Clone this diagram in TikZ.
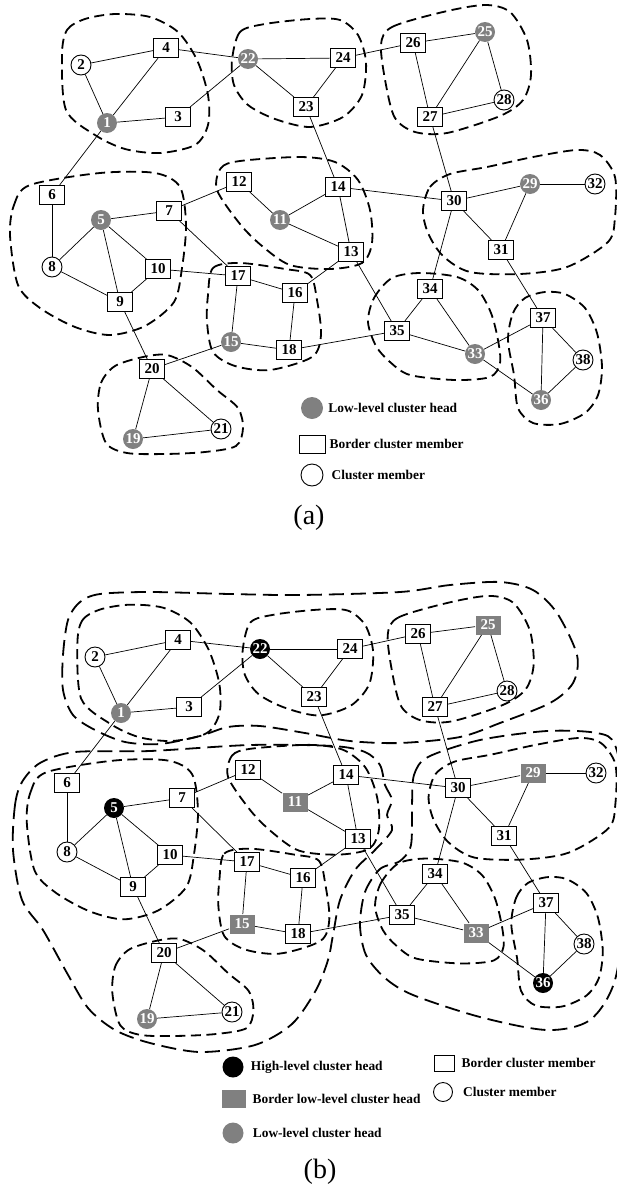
\documentclass[tikz,border=0pt]{standalone}
\usepackage{fontspec}
\setmainfont{Liberation Serif}
\usepackage{tikz}
\usetikzlibrary{shapes,positioning}

\definecolor{headgray}{RGB}{128,128,128}
\newcommand{\idfont}{\fontsize{15}{15}\selectfont\bfseries}
\newcommand{\keyfont}{\fontsize{13.4}{15}\selectfont\bfseries}
\newcommand{\tagfont}{\fontsize{28}{30}\selectfont}

% links between the nodes, the same in both panels
\newcommand{\linklist}{1/2,1/4,2/4,1/3,3/22,4/22,22/24,22/23,23/24,24/26,26/25,26/27,25/27,25/28,27/28,27/30,1/6,6/8,5/8,5/7,5/9,5/10,8/9,9/10,10/17,7/12,7/17,12/11,11/14,11/13,14/13,23/14,14/30,30/29,29/32,29/31,30/31,30/34,13/16,13/35,17/16,17/15,16/18,15/18,15/20,9/20,20/19,20/21,19/21,18/35,35/34,34/33,35/33,33/37,33/36,31/37,37/36,37/38,38/36}

% low-level cluster borders
\newcommand{\lowclusters}{%
  % 1 2 3 4
  \draw[lowcluster] plot[smooth cycle] coordinates {(62,55) (67,30) (85,19) (115,14) (150,17) (178,32) (197,60) (208,95) (208,125) (195,145) (160,153) (125,149) (95,135) (66,110)};
  % 22 23 24
  \draw[lowcluster] plot[smooth cycle] coordinates {(232,60) (240,32) (265,24) (310,19) (340,20) (358,35) (366,62) (362,95) (343,117) (310,127) (275,119) (248,105) (234,85)};
  % 25 26 27 28
  \draw[lowcluster] plot[smooth cycle] coordinates {(381,45) (392,27) (443,12) (485,5) (510,12) (527,40) (531,75) (523,100) (500,116) (447,133) (415,132) (395,118) (386,85)};
  % 5 .. 10
  \draw[lowcluster] plot[smooth cycle] coordinates {(10,235) (14,205) (30,185) (100,173) (155,173) (180,187) (186,225) (182,268) (174,302) (145,326) (110,335) (75,327) (40,308) (18,285)};
  % 11 12 13 14
  \draw[lowcluster] plot[smooth cycle] coordinates {(217,190) (221,168) (240,161) (300,157) (335,162) (358,180) (370,210) (372,243) (362,263) (330,269) (290,265) (262,246) (240,224)};
  % 15 16 17 18
  \draw[lowcluster] plot[smooth cycle] coordinates {(208,295) (213,268) (240,263) (285,269) (310,275) (317,300) (321,335) (312,357) (270,370) (235,366) (213,352) (207,322)};
  % 19 20 21
  \draw[lowcluster] plot[smooth cycle] coordinates {(98,410) (101,383) (115,366) (143,357) (167,355) (192,367) (217,390) (238,408) (243,428) (236,446) (205,452) (165,454) (127,453) (106,443)};
  % 29 30 31 32
  \draw[lowcluster] plot[smooth cycle] coordinates {(423,210) (430,187) (450,174) (487,167) (533,157) (577,150) (600,155) (615,177) (615,217) (608,242) (567,267) (520,274) (470,272) (443,256) (428,233)};
  % 33 34 35
  \draw[lowcluster] plot[smooth cycle] coordinates {(368,322) (374,298) (392,278) (420,273) (457,277) (478,290) (491,313) (498,340) (500,363) (490,377) (455,380) (410,375) (390,362) (376,346)};
  % 36 37 38
  \draw[lowcluster] plot[smooth cycle] coordinates {(508,340) (513,313) (525,298) (545,292) (565,294) (585,308) (597,333) (602,367) (598,395) (585,413) (560,424) (533,423) (518,408) (514,375)};
}

\begin{document}
\begin{tikzpicture}[x=1pt, y=-1pt,
    cmember/.style={circle, draw, line width=0.9pt, fill=white, minimum size=20pt, inner sep=0pt, font=\idfont},
    bmember/.style={rectangle, draw, line width=0.9pt, fill=white, minimum width=25pt, minimum height=19pt, inner sep=1.5pt, font=\idfont},
    chead/.style={circle, fill=headgray, text=white, minimum size=20pt, inner sep=0pt, font=\idfont},
    hhead/.style={chead, fill=black},
    bhead/.style={bmember, draw=none, fill=headgray, text=white},
    link/.style={line width=0.7pt},
    lowcluster/.style={line width=1.8pt, dash pattern=on 10pt off 5.5pt},
    topcluster/.style={line width=1.8pt, dash pattern=on 15pt off 7pt},
    keytext/.style={font=\keyfont, inner sep=0pt}]
\useasboundingbox (0,0) rectangle (616,1191);

% (a) clusters
\lowclusters

% (a) nodes
\node[chead]   (a1)  at (107,123) {1};
\node[cmember] (a2)  at (81,65)   {2};
\node[bmember] (a3)  at (178,117) {3};
\node[bmember] (a4)  at (166,48)  {4};
\node[chead]   (a5)  at (101,220) {5};
\node[bmember] (a6)  at (52,195)  {6};
\node[bmember] (a7)  at (169,211) {7};
\node[cmember] (a8)  at (52,267)  {8};
\node[bmember] (a9)  at (120,302) {9};
\node[bmember] (a10) at (158,269) {10};
\node[chead]   (a11) at (280,220) {11};
\node[bmember] (a12) at (239,182) {12};
\node[bmember] (a13) at (351,252) {13};
\node[bmember] (a14) at (338,187) {14};
\node[chead]   (a15) at (231,342) {15};
\node[bmember] (a16) at (295,293) {16};
\node[bmember] (a17) at (238,276) {17};
\node[bmember] (a18) at (289,350) {18};
\node[chead]   (a19) at (133,439) {19};
\node[bmember] (a20) at (152,369) {20};
\node[cmember] (a21) at (221,429) {21};
\node[chead]   (a22) at (248,59)  {22};
\node[bmember] (a23) at (306,107) {23};
\node[bmember] (a24) at (343,58)  {24};
\node[chead]   (a25) at (485,32)  {25};
\node[bmember] (a26) at (413,43)  {26};
\node[bmember] (a27) at (430,117) {27};
\node[cmember] (a28) at (504,100) {28};
\node[chead]   (a29) at (530,184) {29};
\node[bmember] (a30) at (454,201) {30};
\node[bmember] (a31) at (501,250) {31};
\node[cmember] (a32) at (595,184) {32};
\node[chead]   (a33) at (475,354) {33};
\node[bmember] (a34) at (430,289) {34};
\node[bmember] (a35) at (397,331) {35};
\node[chead]   (a36) at (541,400) {36};
\node[bmember] (a37) at (543,318) {37};
\node[cmember] (a38) at (583,360) {38};

\foreach \u/\v in \linklist {\draw[link] (a\u) -- (a\v);}

% (a) legend
\node[chead, minimum size=22pt] (ka1) at (312,408) {};
\node[keytext, right=5pt of ka1] {Low-level cluster head};
\node[bmember, minimum width=26pt, minimum height=18pt] (ka2) at (312,444) {};
\node[keytext, right=4pt of ka2] {Border cluster member};
\node[cmember, minimum size=22pt] (ka3) at (312,475) {};
\node[keytext, right=8pt of ka3] {Cluster member};
\node[font=\tagfont] (capa) at (309,518) {(a)};

% (b) clusters, the low-level ones again, a little smaller
\begin{scope}[shift={(17,591)}, xscale=0.973, yscale=0.98]
  \lowclusters
\end{scope}
% high-level clusters
\draw[topcluster] plot[smooth cycle] coordinates {(63,690) (63,655) (68,620) (80,602) (100,594) (150,592) (230,594) (300,595) (400,592) (450,585) (500,582) (533,590) (557,613) (577,655) (573,683) (550,703) (500,723) (460,737) (400,743) (350,741) (305,733) (260,726) (228,727) (200,736) (160,744) (125,742) (95,730) (73,715)};
\draw[topcluster] plot[smooth cycle] coordinates {(13,850) (15,805) (22,782) (40,763) (75,752) (150,751) (250,745) (333,746) (365,752) (380,765) (385,785) (392,800) (387,815) (392,830) (375,850) (355,870) (340,900) (333,935) (328,960) (316,990) (292,1024) (255,1045) (200,1052) (150,1043) (115,1030) (88,1008) (67,973) (43,930) (22,900)};
\draw[topcluster] plot[smooth cycle] coordinates {(412,805) (414,775) (428,757) (480,740) (547,731) (597,733) (615,745) (625,800) (625,900) (615,980) (590,1020) (547,1030) (480,1017) (413,995) (385,978) (366,955) (360,925) (365,892) (380,869) (400,861) (411,845)};

% (b) nodes
\node[chead]   (b1)  at (121,713) {1};
\node[cmember] (b2)  at (95,657)  {2};
\node[bmember] (b3)  at (189,707) {3};
\node[bmember] (b4)  at (178,640) {4};
\node[hhead]   (b5)  at (114,808) {5};
\node[bmember] (b6)  at (67,783)  {6};
\node[bmember] (b7)  at (182,798) {7};
\node[cmember] (b8)  at (67,852)  {8};
\node[bmember] (b9)  at (133,887) {9};
\node[bmember] (b10) at (170,855) {10};
\node[bhead]   (b11) at (295,802) {11};
\node[bmember] (b12) at (248,770) {12};
\node[bmember] (b13) at (358,839) {13};
\node[bmember] (b14) at (346,775) {14};
\node[bhead]   (b15) at (242,924) {15};
\node[bmember] (b16) at (303,878) {16};
\node[bmember] (b17) at (247,862) {17};
\node[bmember] (b18) at (298,934) {18};
\node[chead]   (b19) at (147,1019) {19};
\node[bmember] (b20) at (164,953) {20};
\node[cmember] (b21) at (232,1012) {21};
\node[hhead]   (b22) at (260,649) {22};
\node[bmember] (b23) at (314,697) {23};
\node[bmember] (b24) at (350,649) {24};
\node[bhead]   (b25) at (488,625) {25};
\node[bmember] (b26) at (418,634) {26};
\node[bmember] (b27) at (435,707) {27};
\node[cmember] (b28) at (507,691) {28};
\node[bhead]   (b29) at (533,773) {29};
\node[bmember] (b30) at (458,788) {30};
\node[bmember] (b31) at (504,836) {31};
\node[cmember] (b32) at (596,773) {32};
\node[bhead]   (b33) at (476,933) {33};
\node[bmember] (b34) at (435,874) {34};
\node[bmember] (b35) at (402,915) {35};
\node[hhead]   (b36) at (543,983) {36};
\node[bmember] (b37) at (546,903) {37};
\node[cmember] (b38) at (584,944) {38};

\foreach \u/\v in \linklist {\draw[link] (b\u) -- (b\v);}

% (b) legend
\node[hhead, minimum size=21pt] (kb1) at (233,1067) {};
\node[keytext, right=7pt of kb1] {High-level cluster head};
\node[bhead, minimum width=24pt, minimum height=18pt] (kb2) at (234,1099) {};
\node[keytext, right=6pt of kb2] {Border low-level cluster head};
\node[chead, minimum size=21pt] (kb3) at (233,1133) {};
\node[keytext, right=9pt of kb3] {Low-level cluster head};
\node[bmember, minimum width=20pt, minimum height=16pt] (kb4) at (444,1063) {};
\node[keytext, right=7pt of kb4] {Border cluster member};
\node[cmember, minimum size=19pt] (kb5) at (443,1092) {};
\node[keytext, right=10pt of kb5] {Cluster member};
\node[font=\tagfont] (capb) at (320,1172) {(b)};
\end{tikzpicture}
\end{document}
